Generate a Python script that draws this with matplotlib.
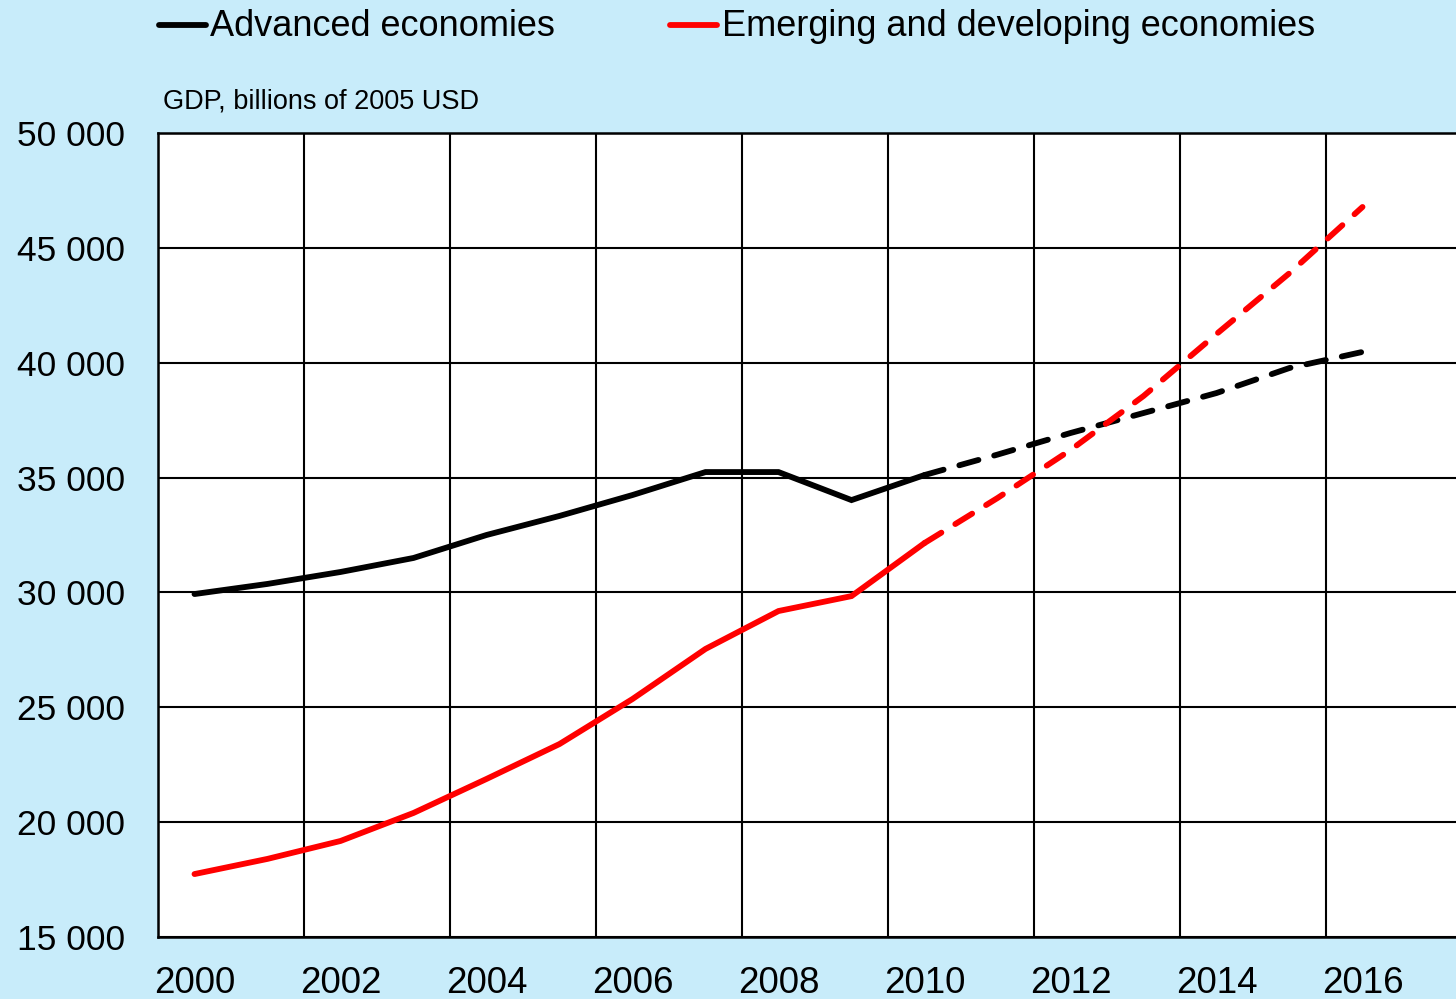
import numpy as np
import matplotlib.pyplot as plt

years = list(range(2000, 2017))
advanced = [29930, 30370, 30890, 31500, 32500, 33330, 34240, 35240, 35240, 34020,
            35110, 36000, 36940, 37810, 38680, 39770, 40470]
emerging = [17740, 18400, 19180, 20400, 21880, 23400, 25360, 27540, 29190, 29840,
            32150, 34110, 36200, 38550, 41250, 43900, 46780]
last_actual = 2010  # solid up to here, dashed projection after
y_ticks = [15000, 20000, 25000, 30000, 35000, 40000, 45000, 50000]
x_labels = [2000, 2002, 2004, 2006, 2008, 2010, 2012, 2014, 2016]

plt.rcParams['font.family'] = ['Liberation Sans', 'DejaVu Sans']

bg = '#c8ecfa'
fig = plt.figure(figsize=(14.56, 9.99), dpi=100, facecolor=bg)

ax = fig.add_axes([158/1456, 1-937/999, 1-158/1456, (937-133)/999])
ax.set_facecolor('white')

idx = years.index(last_actual)
lw = 4.2
ax.plot(years[:idx+1], advanced[:idx+1], color='black', lw=lw,
        solid_capstyle='round', solid_joinstyle='miter', zorder=3)
ax.plot(years[idx:], advanced[idx:], color='black', lw=lw,
        linestyle=(0, (3.4, 2.8)), dash_capstyle='round', zorder=3)
ax.plot(years[:idx+1], emerging[:idx+1], color='#ff0000', lw=lw,
        solid_capstyle='round', solid_joinstyle='miter', zorder=3)
ax.plot(years[idx:], emerging[idx:], color='#ff0000', lw=lw,
        linestyle=(0, (3.4, 2.8)), dash_capstyle='round', zorder=3)

ax.set_xlim(1999.5, 1999.5 + 1298/73)
ax.set_ylim(15000, 50000)

ax.set_yticks(y_ticks)
ax.set_yticklabels([f"{v:,}".replace(',', ' ') for v in y_ticks])
ax.set_xticks(x_labels)
ax.set_xticklabels([str(v) for v in x_labels])
ax.set_xticks(np.arange(2001.5, 2017, 2), minor=True)
ax.tick_params(axis='y', which='both', length=0, labelsize=25.5, pad=24)
ax.tick_params(axis='x', which='both', length=0, labelsize=26.5, pad=21)

ax.grid(True, axis='y', which='major', color='black', lw=1.5)
ax.grid(True, axis='x', which='minor', color='black', lw=1.5)
ax.grid(False, axis='x', which='major')
ax.set_axisbelow(True)
for s in ['left', 'bottom', 'top']:
    ax.spines[s].set_color('black')
    ax.spines[s].set_linewidth(1.8)
ax.spines['right'].set_visible(False)

# legend drawn by hand at the top
fig.add_artist(plt.Line2D([159/1456, 206/1456], [1-25/999]*2, color='black',
                          lw=4.2, solid_capstyle='round'))
fig.text(210/1456, 1-26/999, 'Advanced economies', fontsize=26, va='center')
fig.add_artist(plt.Line2D([670/1456, 717/1456], [1-25/999]*2, color='#ff0000',
                          lw=4.2, solid_capstyle='round'))
fig.text(722/1456, 1-26/999, 'Emerging and developing economies', fontsize=26, va='center')

fig.text(163/1456, 1-102/999, 'GDP, billions of 2005 USD', fontsize=19.5, va='center')

plt.savefig('out.png', dpi=100, facecolor=bg)
